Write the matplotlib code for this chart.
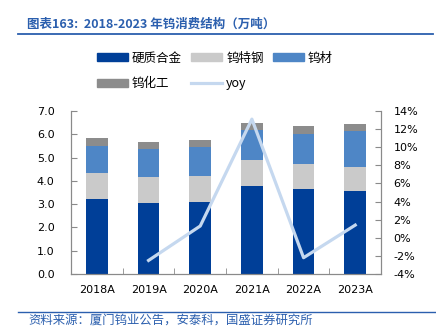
import matplotlib
matplotlib.use("Agg")
import matplotlib.pyplot as plt
import numpy as np
from matplotlib.lines import Line2D
from matplotlib.patches import Patch

plt.rcParams["font.family"] = ["Noto Sans CJK SC", "DejaVu Sans"]

# tungsten consumption by end use, 10k tonnes
years = ["2018A", "2019A", "2020A", "2021A", "2022A", "2023A"]
hard_alloy = [3.23, 3.03, 3.10, 3.79, 3.63, 3.56]
special_steel = [1.09, 1.12, 1.11, 1.12, 1.09, 1.05]
tungsten_mat = [1.17, 1.21, 1.23, 1.27, 1.30, 1.51]
tungsten_chem = [0.33, 0.31, 0.31, 0.32, 0.33, 0.32]
# year-over-year growth of total consumption, %
yoy_years = ["2019A", "2020A", "2021A", "2022A", "2023A"]
yoy = [-2.5, 1.3, 13.1, -2.2, 1.4]

series = [
    ("硬质合金", hard_alloy, "#003F98"),
    ("钨特钢", special_steel, "#CACACA"),
    ("钨材", tungsten_mat, "#4E86C6"),
    ("钨化工", tungsten_chem, "#8C8C8C"),
]
yoy_color = "#C5D8EF"
spine_color = "#8A8A8A"
accent = "#2B5FAE"

fig = plt.figure(figsize=(4.36, 3.26), dpi=100)
ax = fig.add_axes([0.163, 0.1595, 0.711, 0.5])

x = np.arange(len(years))
bottom = np.zeros(len(years))
for name, vals, color in series:
    ax.bar(x, vals, width=0.42, bottom=bottom, color=color, label=name, zorder=2)
    bottom += np.array(vals)

ax.set_xlim(-0.5, len(years) - 0.5)
ax.set_ylim(0, 7)
ax.set_yticks(np.arange(0, 7.01, 1.0))
ax.set_yticklabels([f"{v:.1f}" for v in np.arange(0, 7.01, 1.0)], fontsize=8,
                   family="DejaVu Sans")
ax.set_xticks(x)
ax.set_xticklabels(years, fontsize=8, family="DejaVu Sans")
ax.set_xticks(np.arange(-0.5, len(years)), minor=True)
ax.tick_params(axis="x", which="major", length=0, pad=8)
ax.tick_params(axis="x", which="minor", direction="in", length=4, color=spine_color)
ax.tick_params(axis="y", direction="in", length=4, color=spine_color, pad=12)
ax.spines["top"].set_visible(False)
for s in ("left", "bottom", "right"):
    ax.spines[s].set_color(spine_color)
    ax.spines[s].set_linewidth(0.8)

ax2 = ax.twinx()
yoy_x = [years.index(y) for y in yoy_years]
ax2.plot(yoy_x, yoy, color=yoy_color, lw=2.3, label="yoy", zorder=3)
ax2.set_ylim(-4, 14)
ax2.set_yticks(np.arange(-4, 14.1, 2))
ax2.set_yticklabels([f"{v:.0f}%" for v in np.arange(-4, 14.1, 2)], fontsize=8,
                    family="DejaVu Sans")
ax2.tick_params(axis="y", direction="in", length=4, color=spine_color, pad=9)
ax2.spines["top"].set_visible(False)
for s in ("left", "bottom", "right"):
    ax2.spines[s].set_color(spine_color)
    ax2.spines[s].set_linewidth(0.8)

handles = [Patch(color=c) for _, _, c in series]
handles.insert(4, Line2D([], [], color=yoy_color, lw=2.3))
labels = [n for n, _, _ in series] + ["yoy"]
# order so that ncol=3 fills row by row
order = [0, 3, 1, 4, 2]
fig.legend([handles[i] for i in order], [labels[i] for i in order],
           ncol=3, loc="upper left", bbox_to_anchor=(0.222, 0.842),
           frameon=False, fontsize=9, handlelength=2.5, handleheight=0.62,
           handletextpad=0.3, columnspacing=0.75, labelspacing=1.0,
           borderaxespad=0, borderpad=0)

# header and footer
fig.text(0.062, 0.925, "图表163:  2018-2023 年钨消费结构（万吨）", fontsize=9,
         color=accent, style="italic", weight="bold", va="center", ha="left")
fig.add_artist(Line2D([0.041, 0.993], [0.896, 0.896], color=accent, lw=1.3))
fig.add_artist(Line2D([0.041, 1.0], [0.043, 0.043], color=accent, lw=1.0))
fig.text(0.064, 0.018, "资料来源：厦门钨业公告，安泰科，国盛证券研究所", fontsize=8.9,
         color=accent, style="italic", va="center", ha="left")

fig.savefig("out.png", dpi=100)
